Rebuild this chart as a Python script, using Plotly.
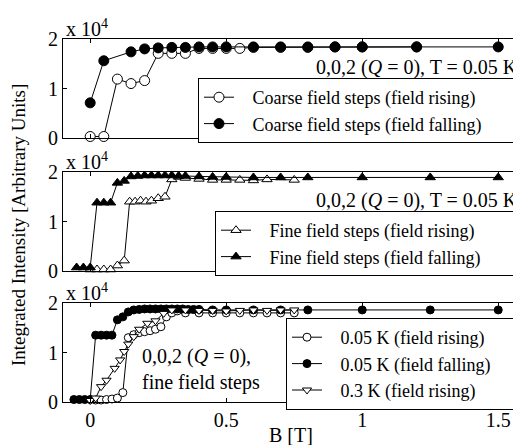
import plotly.graph_objects as go
from plotly.subplots import make_subplots

# ---------------- data ----------------
# Panel 1: coarse field steps, T = 0.05 K
coarse_rise_B = [0, 0.05, 0.1, 0.15, 0.2, 0.25, 0.3, 0.35, 0.4, 0.45, 0.5, 0.55, 0.6, 0.7, 0.8, 0.9, 1.0, 1.2]
coarse_rise_I = [0.03, 0.03, 1.19, 1.10, 1.16, 1.71, 1.71, 1.71, 1.81, 1.81, 1.81, 1.81, 1.83, 1.83, 1.83, 1.84, 1.84, 1.84]
coarse_fall_B = [0, 0.05, 0.15, 0.2, 0.25, 0.3, 0.35, 0.4, 0.45, 0.5, 0.6, 0.7, 0.8, 0.9, 1.0, 1.2, 1.5]
coarse_fall_I = [0.71, 1.56, 1.74, 1.80, 1.82, 1.83, 1.83, 1.84, 1.84, 1.84, 1.84, 1.84, 1.84, 1.84, 1.84, 1.84, 1.84]

# Panel 2: fine field steps, T = 0.05 K
fine_rise_B = [0, 0.025, 0.05, 0.075, 0.1, 0.125, 0.145, 0.165, 0.185, 0.205, 0.225, 0.25, 0.275,
               0.3, 0.325, 0.35, 0.4, 0.45, 0.5, 0.55, 0.6, 0.65, 0.75]
fine_rise_I = [0.03, 0.03, 0.03, 0.03, 0.11, 0.21, 1.40, 1.40, 1.42, 1.40, 1.42, 1.47, 1.50,
               1.85, 1.90, 1.88, 1.86, 1.84, 1.84, 1.84, 1.83, 1.85, 1.84]
fine_fall_B = [-0.05, -0.025, 0, 0.025, 0.05, 0.075, 0.1, 0.125, 0.15, 0.175, 0.2, 0.225, 0.25, 0.275,
               0.3, 0.325, 0.35, 0.4, 0.45, 0.5, 0.6, 0.7, 0.8, 1.0, 1.25, 1.5]
fine_fall_I = [0.07, 0.07, 0.07, 1.38, 1.38, 1.38, 1.78, 1.82, 1.91, 1.92, 1.93, 1.93, 1.93, 1.93,
               1.93, 1.92, 1.92, 1.91, 1.90, 1.90, 1.89, 1.89, 1.89, 1.89, 1.89, 1.89]

# Panel 3: fine field steps at 0.05 K and 0.3 K
k005_rise_B = [0.02, 0.04, 0.06, 0.08, 0.1, 0.12, 0.14, 0.16, 0.18, 0.2, 0.22, 0.24, 0.26, 0.28, 0.3,
               0.32, 0.35, 0.4, 0.45, 0.5, 0.55, 0.6, 0.65, 0.7, 0.75]
k005_rise_I = [0.04, 0.04, 0.05, 0.06, 0.08, 0.19, 1.30, 1.36, 1.40, 1.42, 1.44, 1.47, 1.52, 1.72, 1.80,
               1.84, 1.80, 1.80, 1.80, 1.80, 1.80, 1.80, 1.80, 1.80, 1.80]
k005_fall_B = [-0.06, -0.04, -0.02, 0.0, 0.02, 0.04, 0.06, 0.08, 0.1, 0.12, 0.14, 0.16, 0.18, 0.2,
               0.22, 0.24, 0.26, 0.28, 0.3, 0.32, 0.34, 0.36, 0.38, 0.4, 0.45, 0.5, 0.6, 0.7, 0.8,
               1.0, 1.25, 1.5]
k005_fall_I = [0.05, 0.05, 0.05, 0.05, 1.35, 1.35, 1.35, 1.35, 1.66, 1.72, 1.82, 1.86, 1.87, 1.88,
               1.88, 1.88, 1.88, 1.88, 1.88, 1.88, 1.88, 1.87, 1.87, 1.87, 1.86, 1.86, 1.86, 1.86, 1.86,
               1.86, 1.86, 1.86]
k03_rise_B = [0, 0.02, 0.04, 0.06, 0.09, 0.11, 0.125, 0.14, 0.16, 0.18, 0.21, 0.24, 0.27, 0.3,
              0.35, 0.4, 0.45, 0.5, 0.55, 0.6, 0.65, 0.7, 0.75]
k03_rise_I = [0.03, 0.08, 0.31, 0.44, 0.68, 0.85, 1.02, 1.17, 1.32, 1.47, 1.59, 1.64, 1.79, 1.86,
              1.86, 1.85, 1.85, 1.84, 1.85, 1.86, 1.85, 1.86, 1.86]

x_ticks = [0, 0.5, 1, 1.5]
x_ticklabels = ["0", "0.5", "1", "1.5"]
y_ticks = [0, 1, 2]
y_ticklabels = ["0", "1", "2"]

# ---------------- figure ----------------
FONT = "Liberation Serif"
OX, OY = 8, 8                      # page body margin offset of the plot div
SW, SH = 521, 445                  # screen size
W, H = SW - OX, SH - OY            # figure size
# plot area in screen pixels: x 63..520, y 39..402
ML, MR, MT, MB = 63 - OX, SW - 520, 39 - OY, SH - 402
PW, PH = W - ML - MR, H - MT - MB


def px_x(px):
    return (px - OX - ML) / PW


def px_y(py):
    return (H - MB - (py - OY)) / PH


NB = "\u00a0"


def pad(name, lead, trail):
    # widen the legend box (spacing only)
    return NB * lead + name + NB * trail


fig = make_subplots(rows=3, cols=1, shared_xaxes=True)

line = dict(color="black", width=1)


def add(row, B, I, symbol, fill, name, legend, size):
    fig.add_trace(go.Scatter(
        x=B, y=I, mode="lines+markers", name=name, legend=legend,
        line=line,
        marker=dict(symbol=symbol, size=size, color=fill, line=dict(color="black", width=1)),
        cliponaxis=False,
    ), row=row, col=1)


add(1, coarse_rise_B, coarse_rise_I, "circle", "white", pad("Coarse field steps (field rising)", 3, 7), "legend", 10)
add(1, coarse_fall_B, coarse_fall_I, "circle", "black", pad("Coarse field steps (field falling)", 3, 7), "legend", 10)
add(2, fine_rise_B, fine_rise_I, "triangle-up", "white", pad("Fine field steps (field rising)", 3, 7), "legend2", 9)
add(2, fine_fall_B, fine_fall_I, "triangle-up", "black", pad("Fine field steps (field falling)", 3, 7), "legend2", 9)
add(3, k005_rise_B, k005_rise_I, "circle", "white", pad("0.05 K (field rising)", 3, 5), "legend3", 8)
add(3, k005_fall_B, k005_fall_I, "circle", "black", pad("0.05 K (field falling)", 3, 5), "legend3", 8)
add(3, k03_rise_B, k03_rise_I, "triangle-down", "white", pad("0.3 K (field rising)", 3, 5), "legend3", 8)

domains = [
    (px_y(138), px_y(39)),
    (px_y(271), px_y(172)),
    (px_y(402), px_y(303)),
]

axis_common = dict(
    showline=True, linecolor="black", linewidth=1, mirror="ticks",
    ticks="inside", ticklen=4, tickcolor="black", tickwidth=1,
    showgrid=False, zeroline=False,
    tickfont=dict(family=FONT, size=20, color="black"),
)

for i in range(3):
    xa = "xaxis" if i == 0 else f"xaxis{i+1}"
    ya = "yaxis" if i == 0 else f"yaxis{i+1}"
    fig.layout[xa].update(
        range=[-0.1, 1.58], tickvals=x_ticks, ticktext=x_ticklabels,
        showticklabels=(i == 2), **axis_common)
    fig.layout[ya].update(
        range=[0, 2], tickvals=y_ticks, ticktext=y_ticklabels,
        domain=list(domains[i]), **axis_common)

legend_common = dict(
    bgcolor="white", bordercolor="black", borderwidth=1,
    font=dict(family=FONT, size=18, color="black"),
    xanchor="right", yanchor="top", tracegroupgap=0,
)

fig.update_layout(
    width=W, height=H,
    margin=dict(l=ML, r=MR, t=MT, b=MB, pad=0),
    paper_bgcolor="white", plot_bgcolor="white",
    font=dict(family=FONT, size=20, color="black"),
    legend=dict(x=px_x(519), y=px_y(78), **legend_common),
    legend2=dict(x=px_x(518), y=px_y(211), **legend_common),
    legend3=dict(x=px_x(519), y=px_y(318), **legend_common),
)

ann_font = dict(family=FONT, size=20, color="black")
annotations = [
    dict(text="0,0,2 (<i>Q</i> = 0), T = 0.05 K", x=px_x(520), y=px_y(67), xanchor="right", yanchor="middle"),
    dict(text="0,0,2 (<i>Q</i> = 0), T = 0.05 K", x=px_x(520), y=px_y(200), xanchor="right", yanchor="middle"),
    dict(text="0,0,2 (<i>Q</i> = 0),<br>fine field steps", x=px_x(140), y=px_y(369), xanchor="left",
         yanchor="middle", align="left"),
    dict(text="x 10<sup>4</sup>", x=px_x(64), y=px_y(28), xanchor="left", yanchor="middle"),
    dict(text="x 10<sup>4</sup>", x=px_x(64), y=px_y(161), xanchor="left", yanchor="middle"),
    dict(text="x 10<sup>4</sup>", x=px_x(64), y=px_y(292), xanchor="left", yanchor="middle"),
    dict(text="B [T]", x=px_x(291), y=px_y(435), xanchor="center", yanchor="middle"),
]
for a in annotations:
    fig.add_annotation(xref="paper", yref="paper", showarrow=False, font=ann_font, **a)

fig.add_annotation(xref="paper", yref="paper", showarrow=False,
                   font=dict(family=FONT, size=19, color="black"),
                   text="Integrated Intensity [Arbitrary Units]", x=px_x(18), y=px_y(225),
                   xanchor="center", yanchor="middle", textangle=-90)

fig.write_html("out.html")
